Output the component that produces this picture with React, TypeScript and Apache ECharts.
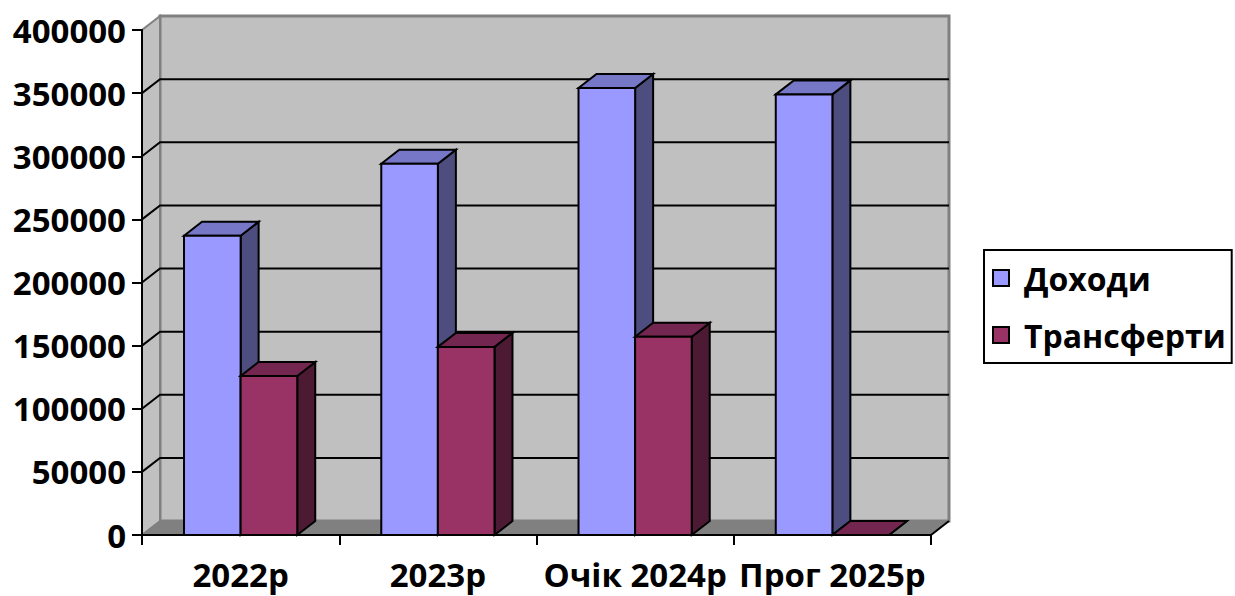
import React, { useEffect, useRef } from "react";
import * as echarts from "echarts";

const categories = ["2022р", "2023р", "Очік 2024р", "Прог 2025р"];
const incomeValues = [237000, 294000, 354000, 349000];
const transferValues = [126000, 149000, 157000, 0];
const seriesNames = ["Доходи", "Трансферти"];
const gridTickValues = [50000, 100000, 150000, 200000, 250000, 300000, 350000];

const DX = 18;
const DY = -14;
const FONT = "'Open Sans', 'Noto Sans', sans-serif";

const incomeColors = { front: "#9999FF", top: "#7777C8", side: "#4D4D80" };
const transferColors = { front: "#993366", top: "#73264F", side: "#4D1A33" };

function makeBarRender(side: number, colors: { front: string; top: string; side: string }) {
  return (params: any, api: any) => {
    const idx = api.value(0);
    const val = api.value(1);
    const base = api.coord([idx, 0]);
    const top = api.coord([idx, val]);
    const bandW = api.size([1, 0])[0];
    const w = bandW * 0.287;
    const x0 = side < 0 ? base[0] - w : base[0];
    const x1 = x0 + w;
    const yb = base[1];
    const yt = top[1];
    const stroke = { stroke: "#000", lineWidth: 2, lineJoin: "miter" };
    return {
      type: "group",
      children: [
        {
          type: "polygon",
          shape: { points: [[x1, yb], [x1 + DX, yb + DY], [x1 + DX, yt + DY], [x1, yt]] },
          style: { fill: colors.side, ...stroke },
        },
        {
          type: "polygon",
          shape: { points: [[x0, yt], [x0 + DX, yt + DY], [x1 + DX, yt + DY], [x1, yt]] },
          style: { fill: colors.top, ...stroke },
        },
        {
          type: "rect",
          shape: { x: x0, y: yt, width: w, height: yb - yt },
          style: { fill: colors.front, ...stroke },
        },
      ],
    };
  };
}

function renderWalls(params: any, api: any) {
  const cs = params.coordSys;
  const x0 = cs.x;
  const y0 = cs.y;
  const x1 = cs.x + cs.width;
  const y1 = cs.y + cs.height;
  const children: any[] = [
    {
      type: "polygon",
      shape: { points: [[x0 + DX, y0 + DY], [x1 + DX, y0 + DY], [x1 + DX, y1 + DY], [x0 + DX, y1 + DY]] },
      style: { fill: "#C0C0C0", stroke: "#808080", lineWidth: 3 },
    },
    {
      type: "polygon",
      shape: { points: [[x0, y1], [x0 + DX, y1 + DY], [x0 + DX, y0 + DY], [x0, y0]] },
      style: { fill: "#C0C0C0", stroke: "#808080", lineWidth: 2 },
    },
    {
      type: "polygon",
      shape: { points: [[x0, y1], [x1, y1], [x1 + DX, y1 + DY], [x0 + DX, y1 + DY]] },
      style: { fill: "#808080", stroke: "#808080", lineWidth: 1 },
    },
    {
      type: "line",
      shape: { x1: x1, y1: y1, x2: x1 + DX, y2: y1 + DY },
      style: { stroke: "#000", lineWidth: 2 },
    },
  ];
  gridTickValues.forEach((v) => {
    const y = api.coord([0, v])[1];
    children.push({
      type: "polyline",
      shape: { points: [[x0, y], [x0 + DX, y + DY], [x1 + DX, y + DY]] },
      style: { stroke: "#000", lineWidth: 2, fill: null },
    });
  });
  return { type: "group", children };
}

export default function App() {
  const ref = useRef<HTMLDivElement>(null);
  useEffect(() => {
    if (!ref.current) return;
    const chart = echarts.init(ref.current, null, { renderer: "svg" });
    const labelStyle = { fontFamily: FONT, fontWeight: "bold" as const, color: "#000" };
    chart.setOption({
      animation: false,
      backgroundColor: "#fff",
      grid: { left: 142, top: 30, width: 789, height: 505, outerBoundsMode: "none", containLabel: false },
      legend: {
        data: seriesNames,
        orient: "vertical",
        left: 984,
        top: 250,
        padding: [12, 6, 12, 8],
        itemGap: 25,
        itemWidth: 16,
        itemHeight: 16,
        icon: "rect",
        borderColor: "#000",
        borderWidth: 2,
        textStyle: { ...labelStyle, fontSize: 32, padding: [0, 0, 0, 10] },
        itemStyle: { borderColor: "#000", borderWidth: 2 },
      },
      xAxis: {
        type: "category",
        data: categories,
        z: 10,
        axisLine: { show: true, lineStyle: { color: "#000", width: 2 } },
        axisTick: { show: true, length: 10, lineStyle: { color: "#000", width: 2 } },
        axisLabel: { ...labelStyle, fontSize: 33, lineHeight: 34, margin: 22, interval: 0 },
        splitLine: { show: false },
      },
      yAxis: {
        type: "value",
        min: 0,
        max: 400000,
        interval: 50000,
        z: 10,
        axisLine: { show: true, lineStyle: { color: "#000", width: 2 } },
        axisTick: { show: true, length: 10, lineStyle: { color: "#000", width: 2 } },
        axisLabel: { ...labelStyle, fontSize: 33, margin: 16, formatter: (v: number) => String(v) },
        splitLine: { show: false },
      },
      series: [
        {
          type: "custom",
          name: "walls",
          silent: true,
          z: 1,
          data: [[0, 0]],
          renderItem: renderWalls,
        },
        {
          type: "custom",
          name: seriesNames[0],
          z: 3,
          itemStyle: { color: incomeColors.front },
          data: incomeValues.map((v, i) => [i, v]),
          renderItem: makeBarRender(-1, incomeColors),
        },
        {
          type: "custom",
          name: seriesNames[1],
          z: 3,
          itemStyle: { color: transferColors.front },
          data: transferValues.map((v, i) => [i, v]),
          renderItem: makeBarRender(1, transferColors),
        },
      ],
    });
    return () => chart.dispose();
  }, []);
  return (
    <div
      ref={ref}
      style={{ position: "fixed", left: 0, top: 0, width: 1235, height: 596 }}
    />
  );
}
